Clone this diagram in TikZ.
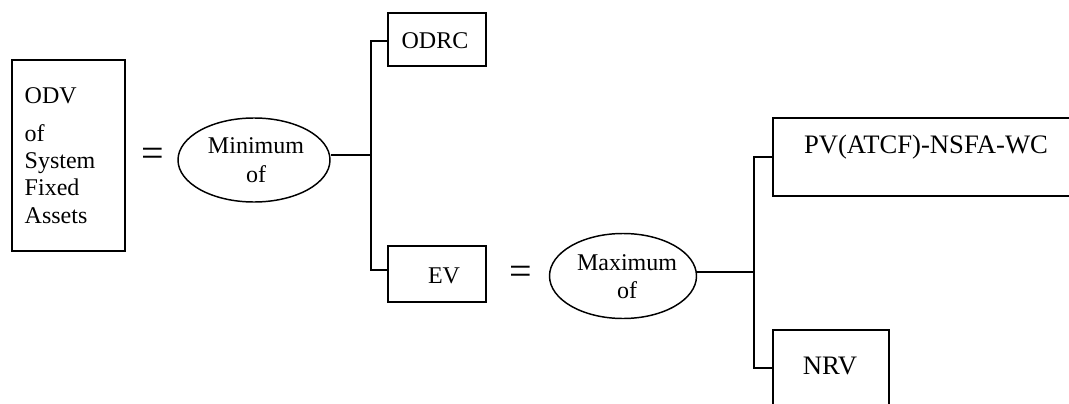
\documentclass[tikz,border=0pt]{standalone}
\usepackage{fontspec}
\setmainfont{Liberation Serif}
\usetikzlibrary{shapes.geometric}
\begin{document}
\begin{tikzpicture}[x=0.75pt,y=-0.75pt,
  line width=1.1pt,
  boxnode/.style={draw,rectangle,inner sep=0pt},
  ovalnode/.style={draw,ellipse,inner sep=0pt},
  txt/.style={inner sep=0pt,font=\fontsize{18pt}{20pt}\selectfont},
  bigtxt/.style={inner sep=0pt,font=\fontsize{20pt}{22pt}\selectfont},
  eqsign/.style={inner sep=0pt,font=\fontsize{30pt}{32pt}\selectfont}]
\useasboundingbox (0,0) rectangle (1069,403);
% boxes
\node[boxnode,minimum width=113*0.75pt,minimum height=191*0.75pt] (odv) at (68.5,155.5) {};
\node[boxnode,minimum width=98*0.75pt,minimum height=53*0.75pt] (odrc) at (437,39.5) {};
\node[boxnode,minimum width=98*0.75pt,minimum height=56*0.75pt] (ev) at (437,274) {};
\node[boxnode,minimum width=310*0.75pt,minimum height=78*0.75pt] (pv) at (928,157) {};
\node[boxnode,minimum width=116*0.75pt,minimum height=100*0.75pt] (nrv) at (831,380) {};
% ellipses
\node[ovalnode,minimum width=152*0.75pt,minimum height=84*0.75pt] (mn) at (254,160) {};
\node[ovalnode,minimum width=147*0.75pt,minimum height=85*0.75pt] (mx) at (623,276) {};
% texts
\node[txt,anchor=base west] (t1) at (24,103) {ODV};
\node[txt,anchor=base west] (t2) at (24,141) {of};
\node[txt,anchor=base west] (t3) at (24,168) {System};
\node[txt,anchor=base west] (t4) at (24,195) {Fixed};
\node[txt,anchor=base west] (t5) at (24,223) {Assets};
\node[txt,anchor=base] (t6) at (256,153) {Minimum};
\node[txt,anchor=base] (t7) at (256,182) {of};
\node[txt,anchor=base] (t8) at (627,270) {Maximum};
\node[txt,anchor=base] (t9) at (627,298) {of};
\node[txt,anchor=base] (t10) at (435,49) {ODRC};
\node[txt,anchor=base] (t11) at (444,283) {EV};
\node[bigtxt,anchor=base] (t12) at (926,153) {PV(ATCF)-NSFA-WC};
\node[bigtxt,anchor=base] (t13) at (830,374) {NRV};
\node[eqsign] (eq1) at (153,157) {=};
\node[eqsign] (eq2) at (521,275) {=};
% connectors
\coordinate (j1) at (371,155);
\coordinate (b1) at (371,41);
\coordinate (b2) at (371,270);
\draw (j1 -| mn.east) -- (j1);
\draw (b1 -| odrc.west) -- (b1) -- (b2) -- (b2 -| ev.west);
\coordinate (j2) at (754,272);
\coordinate (b3) at (754,157);
\coordinate (b4) at (754,368);
\draw (j2 -| mx.east) -- (j2);
\draw (b3 -| pv.west) -- (b3) -- (b4) -- (b4 -| nrv.west);
\end{tikzpicture}
\end{document}
